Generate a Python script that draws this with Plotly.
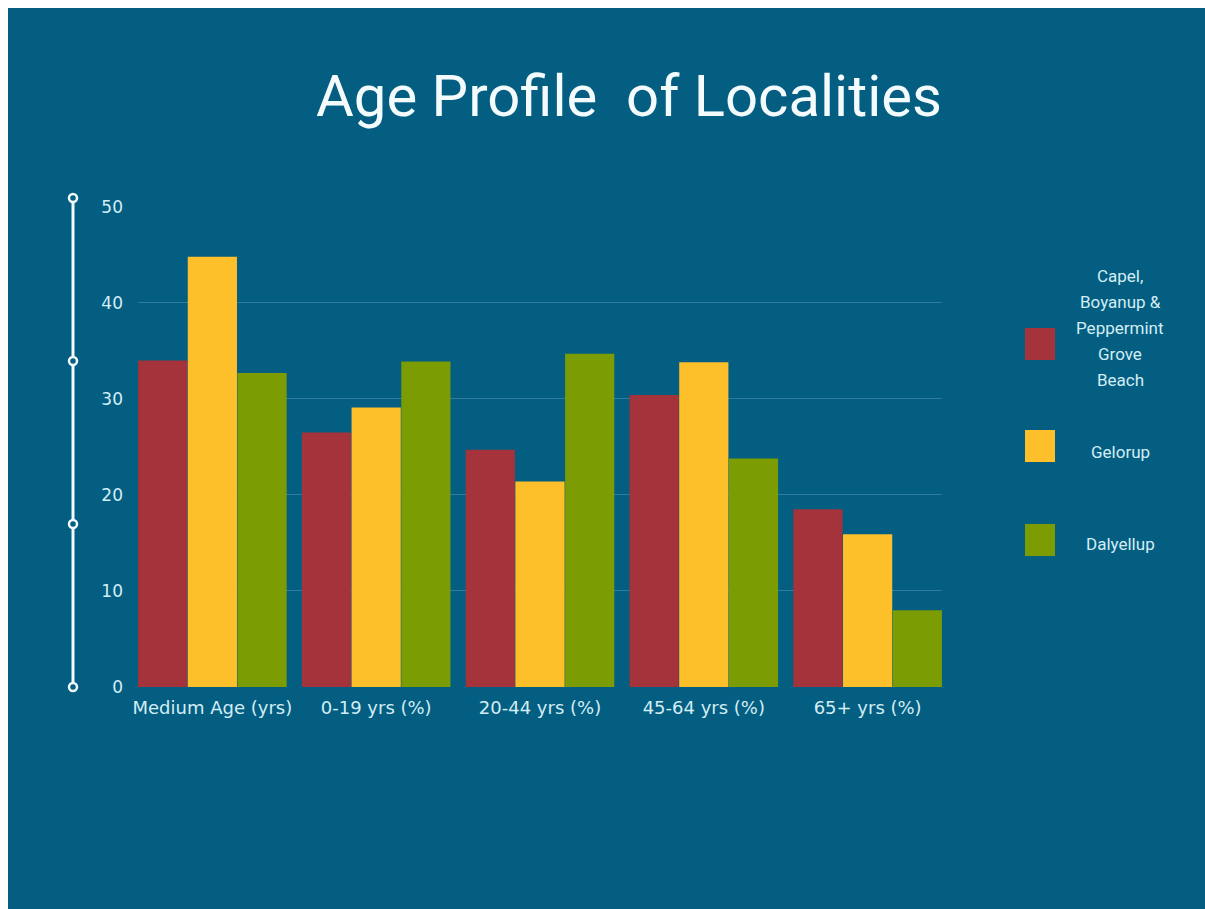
import plotly.graph_objects as go

categories = ["Medium Age (yrs)", "0-19 yrs (%)", "20-44 yrs (%)", "45-64 yrs (%)", "65+ yrs (%)"]
series_names = ["Capel,<br>Boyanup &<br>Peppermint<br>Grove<br>Beach", "Gelorup", "Dalyellup"]
capel = [34, 26.5, 24.7, 30.4, 18.5]
gelorup = [44.8, 29.1, 21.4, 33.8, 15.9]
dalyellup = [32.7, 33.9, 34.7, 23.8, 8.0]
y_ticks = [0, 10, 20, 30, 40, 50]

BG = "#035E82"
TXT = "#D3EDF4"
colors = ["#A5333B", "#FDC02B", "#7B9C02"]

W, H = 1205, 909
ML, MT, PW, PH = 138, 206, 804, 481


def px(x):
    return (x - ML) / PW


def py(y):
    return (PH - (y - MT)) / PH


fig = go.Figure()
for name, vals, c in zip(series_names, [capel, gelorup, dalyellup], colors):
    fig.add_trace(go.Bar(x=categories, y=vals, name=name.replace("<br>", " "),
                         marker=dict(color=c, line=dict(width=0)), showlegend=False))

fig.update_layout(
    width=W, height=H,
    paper_bgcolor=BG, plot_bgcolor=BG,
    margin=dict(l=ML, r=W - ML - PW, t=MT, b=H - MT - PH, pad=0),
    barmode="group", bargap=0.09, bargroupgap=0.01,
    font=dict(family="DejaVu Sans", color=TXT, size=17),
    title=dict(text="Age Profile\u00a0 of Localities", x=629 / W, xanchor="center", xref="container",
               y=1 - 96 / H, yanchor="middle", yref="container",
               font=dict(family="Roboto", size=58, color="#F4FBFD")),
    xaxis=dict(range=[-0.454, 4.454], showgrid=False, zeroline=False, showline=False,
               ticks="", tickfont=dict(family="DejaVu Sans", size=18, color=TXT), ticklabelstandoff=8),
    yaxis=dict(range=[0, 50.08], tickvals=y_ticks, showgrid=True, gridcolor="#2E7C9E", gridwidth=1,
               zeroline=False, showline=False, ticks="",
               tickfont=dict(family="DejaVu Sans", size=17, color=TXT), ticklabelstandoff=14),
)

# white page border at top and left (as in the reference screenshot)
fig.add_shape(type="rect", xref="paper", yref="paper", x0=px(0), x1=px(W), y0=py(8), y1=py(0),
              fillcolor="white", line=dict(width=0), layer="above")
fig.add_shape(type="rect", xref="paper", yref="paper", x0=px(0), x1=px(8), y0=py(H), y1=py(0),
              fillcolor="white", line=dict(width=0), layer="above")

# decorative vertical line with circles on the left
lx = px(73)
top_y = py(198)
fig.add_shape(type="line", xref="paper", yref="paper", x0=lx, x1=lx, y0=0, y1=top_y,
              line=dict(color="#F2FAFC", width=3), layer="above")
r = 4
for k in range(4):
    yc = top_y * (1 - k / 3)
    fig.add_shape(type="circle", xref="paper", yref="paper",
                  x0=lx - r / PW, x1=lx + r / PW, y0=yc - r / PH, y1=yc + r / PH,
                  fillcolor=BG, line=dict(color="#F2FAFC", width=2.5), layer="above")

# manual legend (square + centred multi-line label)
sq_centers = [344, 446, 540]
txt_centers = [328, 452, 544]
line_gap = 26
for name, c, sc, tc in zip(series_names, colors, sq_centers, txt_centers):
    fig.add_shape(type="rect", xref="paper", yref="paper", x0=px(1025), x1=px(1055),
                  y0=py(sc + 16), y1=py(sc - 16), fillcolor=c, line=dict(width=0))
    lines = name.split("<br>")
    n = len(lines)
    for i, ln in enumerate(lines):
        ly = tc + (i - (n - 1) / 2) * line_gap
        fig.add_annotation(text=ln, xref="paper", yref="paper", x=px(1120), y=py(ly),
                           xanchor="center", yanchor="middle", showarrow=False,
                           font=dict(family="Roboto", size=17, color=TXT))

fig.write_html("out.html", config={"displayModeBar": False},
               post_script="document.body.style.margin='0';"
                           "document.body.style.overflow='hidden';"
                           "document.documentElement.style.background='" + BG + "';"
                           "document.body.style.background='" + BG + "';")
